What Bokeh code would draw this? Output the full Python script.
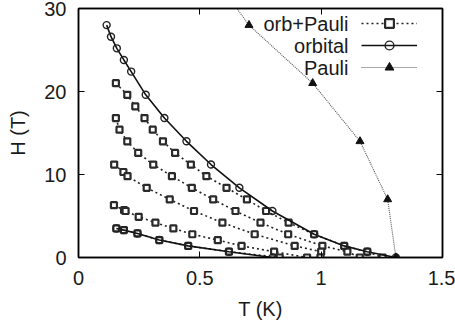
from bokeh.plotting import figure
from bokeh.models import (LinearAxis, Legend, LegendItem, Label, FixedTicker,
                          Range1d, CustomJSTickFormatter)
from bokeh.embed import file_html
from bokeh.resources import INLINE

# ---- data: upper critical field H (T) versus temperature T (K) ----
# orbital limit, strong-field curve
orb1_T = [0.116, 0.134, 0.158, 0.187, 0.217, 0.277, 0.354, 0.445, 0.546,
          0.663, 0.799, 0.971, 1.095, 1.190, 1.308]
orb1_H = [28.0, 26.6, 25.2, 23.8, 22.4, 19.6, 16.8, 14.0, 11.2,
          8.4, 5.6, 2.8, 1.4, 0.7, 0.0]

# orbital limit, weak-field curve
orb2_T = [0.156, 0.187, 0.243, 0.333, 0.452, 0.620, 0.800]
orb2_H = [3.5, 3.3, 2.9, 2.1, 1.4, 0.7, 0.0]

# orbital + Pauli curves
opA_T = [0.154, 0.201, 0.234, 0.272, 0.306, 0.348, 0.398, 0.463, 0.527,
         0.610, 0.694, 0.773, 0.866, 0.971, 1.095, 1.190, 1.253]
opA_H = [21.0, 19.6, 18.2, 16.8, 15.4, 14.0, 12.6, 11.2, 9.8,
         8.4, 7.0, 5.6, 4.2, 2.8, 1.4, 0.7, 0.0]

opB_T = [0.154, 0.169, 0.201, 0.246, 0.308, 0.385, 0.467, 0.555, 0.647,
         0.750, 0.864, 1.005, 1.108, 1.159]
opB_H = [16.8, 15.4, 14.0, 12.6, 11.2, 9.8, 8.4, 7.0, 5.6,
         4.2, 2.8, 1.4, 0.7, 0.0]

opC_T = [0.147, 0.185, 0.202, 0.281, 0.376, 0.476, 0.593, 0.726, 0.891,
         1.000, 0.997]
opC_H = [11.2, 10.3, 9.8, 8.4, 7.0, 5.6, 4.2, 2.8, 1.4, 0.7, 0.0]

opD_T = [0.146, 0.188, 0.194, 0.248, 0.317, 0.391, 0.469, 0.574, 0.672,
         0.806, 0.942]
opD_H = [6.3, 5.7, 5.6, 4.9, 4.2, 3.5, 2.8, 2.1, 1.4, 0.7, 0.0]

opE_T = [0.156, 0.187, 0.243, 0.333, 0.452, 0.620, 0.829]
opE_H = [3.5, 3.3, 2.9, 2.1, 1.4, 0.7, 0.0]

# Pauli limit
pauli_T = [0.528, 0.7025, 0.965, 1.160, 1.274, 1.308]
pauli_H = [35.0, 28.0, 21.0, 14.0, 7.0, 0.0]

x_ticks = [0, 0.5, 1, 1.5]
x_tick_labels = ["0", "0.5", "1", "1.5"]
y_ticks = [0, 10, 20, 30]

legend_labels = ["orb+Pauli", "orbital", "Pauli"]

FONT = "Liberation Sans"
FS = "20px"
INK = "#1a1a1a"

p = figure(width=455, height=329, x_range=Range1d(0, 1.5),
           y_range=Range1d(0, 30), output_backend="svg",
           toolbar_location=None, min_border_left=78, min_border_right=13,
           min_border_top=8, min_border_bottom=72)
p.grid.visible = False
p.outline_line_color = "black"
p.outline_line_width = 1.5
p.background_fill_color = "white"
p.border_fill_color = "white"

# main axes
for ax in (p.xaxis[0], p.yaxis[0]):
    ax.major_tick_in = 6
    ax.major_tick_out = 0
    ax.minor_tick_line_color = None
    ax.axis_line_width = 1.5
    ax.major_tick_line_width = 1
    ax.major_label_text_font = FONT
    ax.major_label_text_font_size = FS
    ax.major_label_text_color = INK
    ax.axis_label_text_font = FONT
    ax.axis_label_text_font_size = FS
    ax.axis_label_text_font_style = "normal"
    ax.axis_label_text_color = INK

p.xaxis.ticker = FixedTicker(ticks=x_ticks)
p.xaxis.major_label_overrides = {t: s for t, s in zip(x_ticks, x_tick_labels)}
p.yaxis.ticker = FixedTicker(ticks=y_ticks)
p.xaxis.axis_label = "T (K)"
p.yaxis.axis_label = "H (T)"
p.xaxis.major_label_standoff = 13
p.xaxis.axis_label_standoff = 10
p.yaxis.major_label_standoff = 12
p.yaxis.axis_label_standoff = 12

# mirrored tick marks on the top and right edges, without labels
blank = CustomJSTickFormatter(code="return ''")
for side, ticks in (("right", y_ticks), ("above", x_ticks)):
    ax = LinearAxis(ticker=FixedTicker(ticks=ticks), major_tick_in=6,
                    major_tick_out=0, minor_tick_line_color=None,
                    formatter=blank, major_label_standoff=0,
                    axis_line_width=1.5)
    p.add_layout(ax, side)

DOT = "2 3"
SQ = dict(marker="square", size=6, line_color="#2a2a2a", line_width=2.2,
          fill_color="white")

op_renderers = []
for T, H in ((opA_T, opA_H), (opB_T, opB_H), (opC_T, opC_H),
             (opD_T, opD_H), (opE_T, opE_H)):
    ln = p.line(T, H, line_color="#222222", line_width=1.6, line_dash=DOT)
    sc = p.scatter(T, H, **SQ)
    op_renderers.append((ln, sc))

orb_renderers = []
for T, H in ((orb1_T, orb1_H), (orb2_T, orb2_H)):
    ln = p.line(T, H, line_color="#111111", line_width=1.6)
    sc = p.scatter(T, H, marker="circle", size=7, line_color="#222222",
                   line_width=1.4, fill_alpha=0)
    orb_renderers.append((ln, sc))

pl_ln = p.line(pauli_T, pauli_H, line_color="#555555", line_width=1.1,
               line_dash="1 1")
pl_sc = p.scatter(pauli_T, pauli_H, marker="triangle", size=8,
                  line_color="#111111", fill_color="#111111")

legend = Legend(items=[
    LegendItem(label="", renderers=list(op_renderers[0])),
    LegendItem(label="", renderers=list(orb_renderers[0])),
    LegendItem(label="", renderers=[pl_ln, pl_sc]),
], location=(283, 179), glyph_width=56, glyph_height=22, label_width=0,
    label_height=22, label_standoff=0, spacing=0, padding=0, margin=0,
    border_line_alpha=0, background_fill_alpha=0, label_text_font_size="0px")
p.add_layout(legend)

for i, txt in enumerate(legend_labels):
    p.add_layout(Label(x=270, y=234 - 22 * i, x_units="screen",
                       y_units="screen", text=txt, text_align="right",
                       text_baseline="middle", text_font=FONT,
                       text_font_size=FS, text_color=INK))

open("out.html", "w").write(file_html(p, INLINE))
